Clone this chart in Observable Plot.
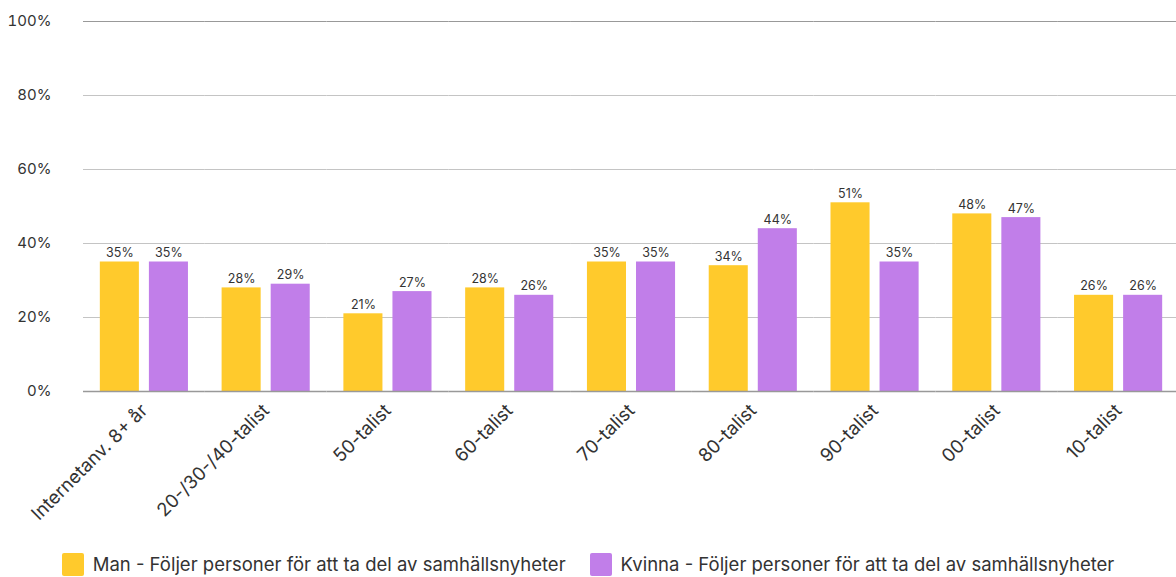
<!DOCTYPE html>
<html>
<head>
<meta charset="utf-8">
<script src="https://cdn.jsdelivr.net/npm/d3@7"></script>
<script src="https://cdn.jsdelivr.net/npm/@observablehq/plot@0.6"></script>
<style>
  html, body { margin: 0; background: #fff; font-family: Inter, "Noto Sans", sans-serif; overflow: hidden; }
  #chart { width: 1176px; overflow: hidden; }
  #chart svg { display: block; }
  .legend { display: flex; justify-content: center; gap: 24px; margin-top: 15px; font-size: 18.5px; line-height: 23px; color: #333; }
  .legend .item { display: flex; align-items: center; gap: 9px; }
  .legend .sw { width: 22px; height: 23px; border-radius: 2px; display: inline-block; }
</style>
</head>
<body>
<div id="chart"></div>
<script>
const categories = ["Internetanv. 8+ år", "20-/30-/40-talist", "50-talist", "60-talist", "70-talist", "80-talist", "90-talist", "00-talist", "10-talist"];
const seriesNames = ["Man - Följer personer för att ta del av samhällsnyheter", "Kvinna - Följer personer för att ta del av samhällsnyheter"];
const seriesKeys = ["Man", "Kvinna"];
const manValues = [35, 28, 21, 28, 35, 34, 51, 48, 26];
const kvinnaValues = [35, 29, 27, 26, 35, 44, 35, 47, 26];
const colors = ["#FFCA2C", "#C17EE9"];
const yTicks = [0, 20, 40, 60, 80, 100];

const data = [];
categories.forEach((c, i) => {
  data.push({cat: c, series: "Man", value: manValues[i]});
  data.push({cat: c, series: "Kvinna", value: kvinnaValues[i]});
});

const chart = Plot.plot({
  width: 1176,
  height: 538,
  marginTop: 21,
  marginBottom: 147,
  marginLeft: 83,
  marginRight: -3,
  style: {fontFamily: "Inter, 'Noto Sans', sans-serif", color: "#333", background: "#fff", overflow: "hidden", maxWidth: "none"},
  fx: {domain: categories, padding: 0, round: false, label: null, axis: null},
  x: {domain: seriesKeys, paddingInner: 0.204, paddingOuter: 0.343, round: false, axis: null},
  y: {domain: [0, 100], axis: null},
  color: {domain: seriesKeys, range: colors},
  marks: [
    Plot.ruleY([20, 40, 60, 80], {stroke: "#c4c4c4", strokeWidth: 1}),
    Plot.ruleY([100], {stroke: "#999", strokeWidth: 1}),
    Plot.barY(data, {fx: "cat", x: "series", y: "value", fill: "series"}),
    Plot.text(data, {fx: "cat", x: "series", y: "value", text: d => d.value + "%", dy: -9, fontSize: 12.5, fill: "#333"}),
    Plot.ruleY([0], {stroke: "#999", strokeWidth: 1.5}),
    Plot.axisY(yTicks, {tickSize: 0, tickPadding: 32, tickFormat: d => d + "%", fontSize: 15, fill: "#333", label: null}),
    Plot.axisFx({anchor: "bottom", tickRotate: -45, tickSize: 0, tickPadding: 16, fontSize: 18.5, fill: "#333", label: null})
  ]
});
document.getElementById("chart").appendChild(chart);

const legend = document.createElement("div");
legend.className = "legend";
seriesNames.forEach((n, i) => {
  const it = document.createElement("div");
  it.className = "item";
  const sw = document.createElement("span");
  sw.className = "sw";
  sw.style.background = colors[i];
  const t = document.createElement("span");
  t.textContent = n;
  it.appendChild(sw); it.appendChild(t);
  legend.appendChild(it);
});
document.getElementById("chart").appendChild(legend);
</script>
</body>
</html>
